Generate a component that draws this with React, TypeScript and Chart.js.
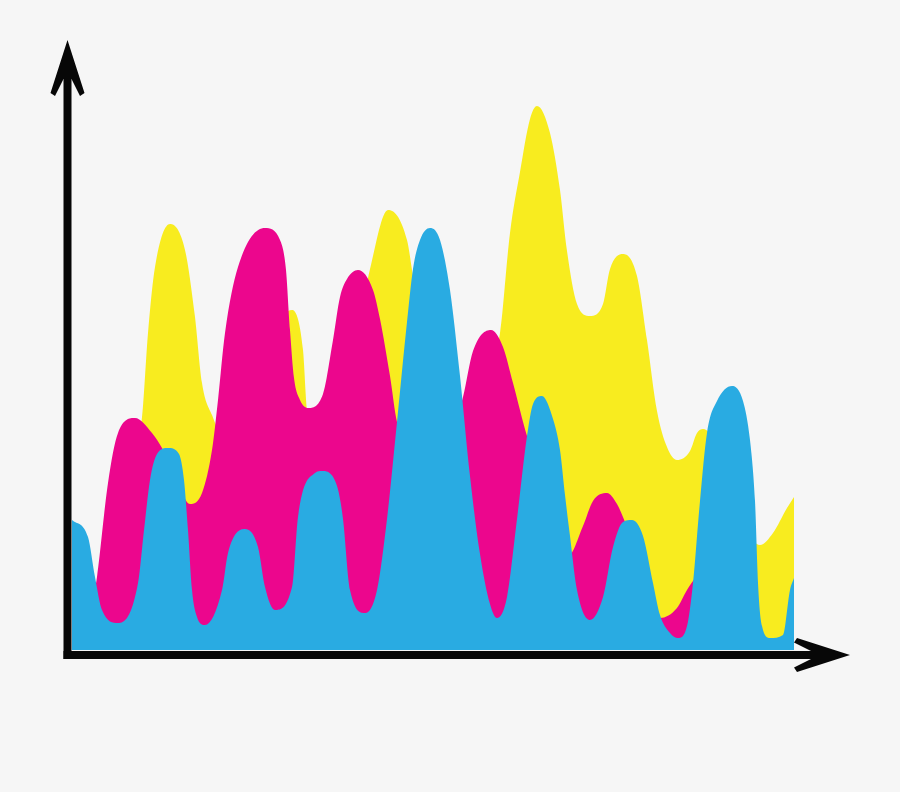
import React, { useEffect, useRef } from "react";
import { Chart, registerables } from "chart.js";

Chart.register(...registerables);

// Values: x = position along the time axis (0..722), y = height (0..600)
const yellowX = [0, 38, 70, 76, 83, 98, 113, 123, 130, 140, 148, 220, 231, 235, 248, 288, 298, 316, 335, 341, 378, 428, 438, 448, 458, 465, 478, 488, 495, 505, 518, 531, 538, 551, 565, 575, 585, 595, 605, 618, 625, 631, 688, 701, 715, 722];
const yellowY = [5, 50, 233, 317, 383, 426, 400, 333, 267, 235, 220, 340, 300, 240, 180, 330, 381, 440, 410, 374, 180, 317, 417, 478, 531, 544, 517, 460, 399, 346, 334, 346, 381, 396, 374, 310, 239, 203, 190, 199, 217, 221, 105, 117, 142, 153];

const magentaX = [0, 12, 25, 36, 46, 63, 80, 90, 104, 118, 130, 140, 146, 153, 166, 193, 208, 214, 218, 222, 228, 236, 251, 261, 268, 275, 286, 301, 308, 318, 325, 358, 391, 401, 419, 431, 441, 455, 496, 511, 521, 535, 545, 553, 588, 605, 615, 623, 648, 693, 722];
const magentaY = [5, 10, 73, 167, 217, 232, 217, 202, 172, 146, 157, 200, 250, 317, 383, 422, 410, 380, 320, 272, 250, 242, 256, 310, 353, 371, 380, 360, 331, 274, 228, 150, 253, 299, 320, 303, 267, 214, 94, 124, 149, 157, 146, 128, 32, 42, 60, 72, 110, 2, 2];

const cyanX = [0, 16, 23, 30, 46, 66, 72, 78, 85, 96, 107, 112, 116, 120, 125, 133, 150, 156, 173, 186, 193, 203, 220, 226, 243, 250, 265, 271, 278, 293, 305, 315, 325, 335, 341, 348, 358, 368, 378, 388, 398, 408, 418, 425, 435, 445, 455, 461, 470, 481, 488, 493, 498, 505, 518, 531, 541, 551, 560, 571, 581, 588, 598, 606, 615, 621, 628, 635, 645, 660, 671, 678, 683, 686, 690, 698, 711, 718, 722];
const cyanY = [130, 113, 73, 40, 27, 67, 120, 170, 196, 202, 196, 170, 120, 60, 33, 25, 60, 97, 121, 103, 63, 40, 63, 133, 177, 179, 164, 131, 60, 37, 60, 131, 228, 328, 381, 410, 422, 410, 360, 274, 174, 96, 46, 32, 53, 131, 214, 246, 254, 231, 200, 155, 114, 60, 30, 53, 103, 128, 130, 114, 67, 35, 17, 12, 24, 67, 149, 217, 249, 264, 249, 210, 149, 67, 24, 12, 15, 60, 72];

const X_MAX = 722;
const Y_MAX = 600;

const toPoints = (xs: number[], ys: number[]) => xs.map((x, i) => ({ x, y: ys[i] }));

const axesPlugin = {
  id: "arrowAxes",
  afterDraw(chart: any) {
    const ctx = chart.ctx as CanvasRenderingContext2D;
    const { left, right, top, bottom } = chart.chartArea;
    const ax = left - 4.5; // y-axis centre line
    const ay = bottom + 5; // x-axis centre line
    const half = 4;
    const yTip = top - 10;
    const xTip = right + 56;
    ctx.save();
    ctx.fillStyle = "#070707";
    // shafts
    ctx.fillRect(ax - half, yTip + 36, half * 2, ay + half - (yTip + 36));
    ctx.fillRect(ax - half, ay - half, xTip - 36 - (ax - half), half * 2);
    // y arrow head
    ctx.beginPath();
    ctx.moveTo(ax, yTip);
    ctx.lineTo(ax + 17, yTip + 53);
    ctx.lineTo(ax + 12.5, yTip + 56);
    ctx.lineTo(ax + half, yTip + 39);
    ctx.lineTo(ax - half, yTip + 39);
    ctx.lineTo(ax - 12.5, yTip + 56);
    ctx.lineTo(ax - 17, yTip + 53);
    ctx.closePath();
    ctx.fill();
    // x arrow head
    ctx.beginPath();
    ctx.moveTo(xTip, ay);
    ctx.lineTo(xTip - 53, ay - 17);
    ctx.lineTo(xTip - 56, ay - 12.5);
    ctx.lineTo(xTip - 39, ay - half);
    ctx.lineTo(xTip - 39, ay + half);
    ctx.lineTo(xTip - 56, ay + 12.5);
    ctx.lineTo(xTip - 53, ay + 17);
    ctx.closePath();
    ctx.fill();
    ctx.restore();
  },
};

export default function App() {
  const ref = useRef<HTMLCanvasElement | null>(null);

  useEffect(() => {
    if (!ref.current) return;
    const mk = (label: string, xs: number[], ys: number[], color: string, order: number) => ({
      label,
      data: toPoints(xs, ys),
      backgroundColor: color,
      borderColor: color,
      borderWidth: 0,
      pointRadius: 0,
      fill: "origin",
      cubicInterpolationMode: "monotone" as const,
      order,
    });
    const chart = new Chart(ref.current, {
      type: "line",
      data: {
        datasets: [
          mk("Cyan", cyanX, cyanY, "#29abe2", 1),
          mk("Magenta", magentaX, magentaY, "#ec068d", 2),
          mk("Yellow", yellowX, yellowY, "#f8ec1f", 3),
        ],
      },
      options: {
        responsive: false,
        animation: false,
        layout: { padding: { left: 72, right: 106, top: 50, bottom: 142 } },
        scales: {
          x: { type: "linear", min: 0, max: X_MAX, display: false },
          y: { type: "linear", min: 0, max: Y_MAX, display: false },
        },
        plugins: {
          legend: { display: false },
          tooltip: { enabled: false },
        },
        events: [],
      },
      plugins: [axesPlugin],
    });
    return () => chart.destroy();
  }, []);

  return (
    <div style={{ position: "fixed", left: 0, top: 0, width: 900, height: 792, background: "#f6f6f6" }}>
      <canvas ref={ref} width={900} height={792} style={{ display: "block", width: 900, height: 792 }} />
    </div>
  );
}
